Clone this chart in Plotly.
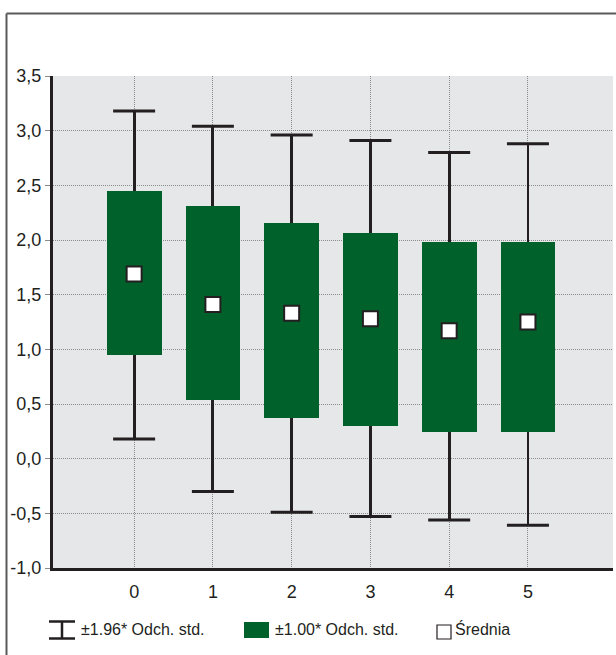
import plotly.graph_objects as go

# ---- data ----
categories = [0, 1, 2, 3, 4, 5]
means = [1.69, 1.41, 1.33, 1.28, 1.17, 1.25]
box_low = [0.95, 0.54, 0.37, 0.30, 0.24, 0.24]      # mean - 1.00*SD
box_high = [2.45, 2.31, 2.16, 2.06, 1.98, 1.98]     # mean + 1.00*SD
whisk_low = [0.18, -0.30, -0.49, -0.53, -0.56, -0.61]  # mean - 1.96*SD
whisk_high = [3.18, 3.04, 2.96, 2.91, 2.80, 2.88]      # mean + 1.96*SD

y_tickvals = [-1.0, -0.5, 0.0, 0.5, 1.0, 1.5, 2.0, 2.5, 3.0, 3.5]
y_ticktext = ["-1,0", "-0,5", "0,0", "0,5", "1,0", "1,5", "2,0", "2,5", "3,0", "3,5"]
x_ticktext = ["0", "1", "2", "3", "4", "5"]

legend_labels = ["±1.96* Odch. std.", "±1.00* Odch. std.", "Średnia"]

# ---- style ----
GREEN = "#00612a"
DARK = "#231f20"
GRID = "#8a8a8a"
FONT = "Liberation Sans"
W, H = 616, 655
ML, MR, MT, MB = 53, 3, 76, 87
PW, PH = W - ML - MR, H - MT - MB


def px_x(px):
    return (px - ML) / PW


def px_y(py):
    return (H - MB - py) / PH


fig = go.Figure()

# whisker stems (thin bars, drawn behind the boxes)
fig.add_trace(go.Bar(
    x=categories,
    base=whisk_low,
    y=[h - l for h, l in zip(whisk_high, whisk_low)],
    width=0.036,
    marker=dict(color=DARK, line=dict(width=0)),
    showlegend=False, hoverinfo="skip",
))
# +-1 SD boxes
fig.add_trace(go.Bar(
    x=categories,
    base=box_low,
    y=[h - l for h, l in zip(box_high, box_low)],
    width=0.695,
    marker=dict(color=GREEN, line=dict(width=0)),
    showlegend=False, hoverinfo="skip",
))
# whisker caps
fig.add_trace(go.Scatter(
    x=categories + categories,
    y=whisk_high + whisk_low,
    mode="markers",
    marker=dict(symbol="line-ew", size=30, line=dict(color=DARK, width=3)),
    showlegend=False, hoverinfo="skip",
))
# means
fig.add_trace(go.Scatter(
    x=categories,
    y=means,
    mode="markers",
    marker=dict(symbol="square", size=15, color="white",
                line=dict(color=DARK, width=2)),
    showlegend=False, hoverinfo="skip",
))

shapes = []
# outer frame (top and left lines)
shapes.append(dict(type="line", xref="paper", yref="paper",
                   x0=px_x(6.5), x1=px_x(620), y0=px_y(13.5), y1=px_y(13.5),
                   line=dict(color="#5a5a5a", width=2)))
shapes.append(dict(type="line", xref="paper", yref="paper",
                   x0=px_x(6.5), x1=px_x(6.5), y0=px_y(13.5), y1=px_y(660),
                   line=dict(color="#5a5a5a", width=2)))

# legend icons
LY_TOP, LY_BOT = 621.5, 638.5
shapes += [
    dict(type="line", xref="paper", yref="paper",
         x0=px_x(49), x1=px_x(75), y0=px_y(LY_TOP), y1=px_y(LY_TOP),
         line=dict(color=DARK, width=2.5)),
    dict(type="line", xref="paper", yref="paper",
         x0=px_x(49), x1=px_x(75), y0=px_y(LY_BOT), y1=px_y(LY_BOT),
         line=dict(color=DARK, width=2.5)),
    dict(type="line", xref="paper", yref="paper",
         x0=px_x(62), x1=px_x(62), y0=px_y(LY_TOP), y1=px_y(LY_BOT),
         line=dict(color=DARK, width=2.5)),
    dict(type="rect", xref="paper", yref="paper",
         x0=px_x(244), x1=px_x(269), y0=px_y(622), y1=px_y(638),
         fillcolor=GREEN, line=dict(width=0)),
    dict(type="rect", xref="paper", yref="paper",
         x0=px_x(437), x1=px_x(451), y0=px_y(625), y1=px_y(639),
         fillcolor="white", line=dict(color=DARK, width=1.2)),
]

annotations = []
for lx, txt in zip([79, 273, 453], legend_labels):
    annotations.append(dict(
        x=px_x(lx), y=px_y(629), xref="paper", yref="paper",
        text=txt, showarrow=False, xanchor="left", yanchor="middle",
        font=dict(family=FONT, size=16, color=DARK),
    ))

fig.update_layout(
    width=W, height=H, autosize=False,
    margin=dict(l=ML, r=MR, t=MT, b=MB, pad=0),
    paper_bgcolor="white",
    plot_bgcolor="#e6e7e8",
    barmode="overlay",
    bargap=0,
    showlegend=False,
    shapes=shapes,
    annotations=annotations,
    font=dict(family=FONT, size=18, color=DARK),
)

fig.update_xaxes(
    range=[-1.03, 6.08],
    tickmode="array", tickvals=categories, ticktext=x_ticktext,
    showgrid=True, gridcolor=GRID, gridwidth=1, griddash="1px,1px",
    showline=True, linecolor=DARK, linewidth=3,
    ticks="", zeroline=False,
    tickfont=dict(family=FONT, size=18, color=DARK),
    ticklabelstandoff=5,
)
fig.update_yaxes(
    range=[-1.0, 3.5],
    tickmode="array", tickvals=y_tickvals, ticktext=y_ticktext,
    showgrid=True, gridcolor=GRID, gridwidth=1, griddash="1px,1px",
    showline=True, linecolor=DARK, linewidth=3,
    ticks="outside", ticklen=5, tickcolor=GRID, tickwidth=1,
    zeroline=False,
    tickfont=dict(family=FONT, size=18, color=DARK),
)

fig.write_html(
    "out.html",
    config={"displayModeBar": False},
    post_script="document.body.style.margin='0';document.body.style.overflow='hidden';",
)
